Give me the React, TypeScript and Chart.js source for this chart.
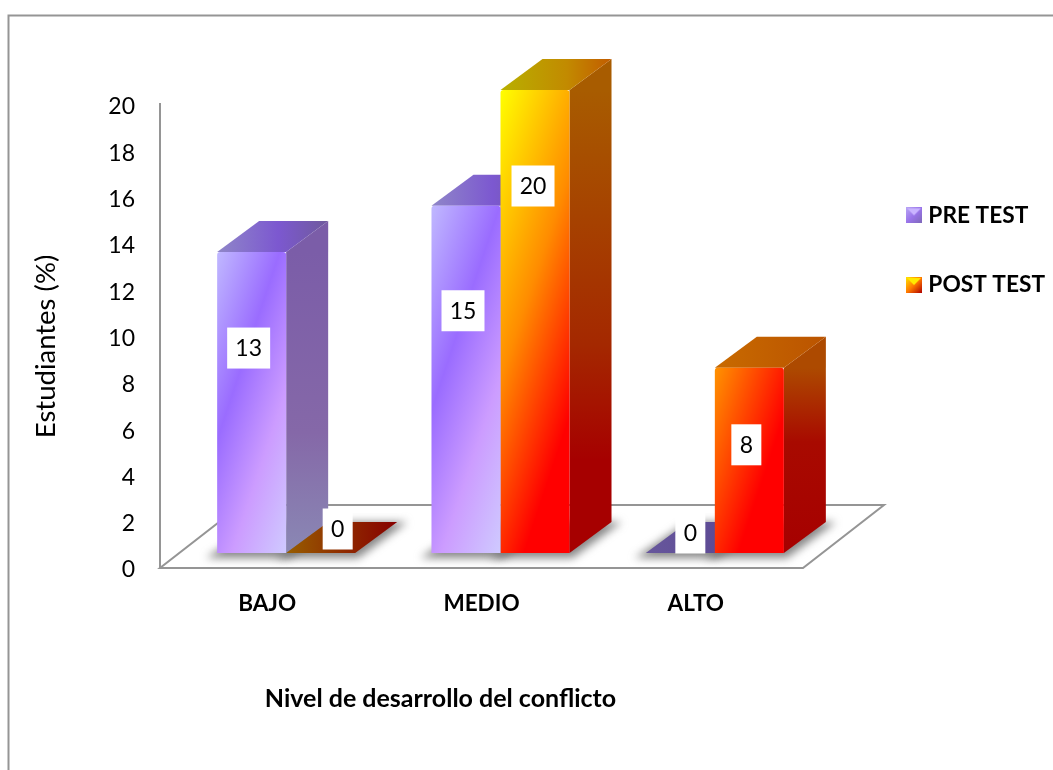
import React, { useEffect, useRef } from "react";
import { Chart, registerables } from "chart.js";

Chart.register(...registerables);

const categories = ["BAJO", "MEDIO", "ALTO"];
const preTest = [13, 15, 0];
const postTest = [0, 20, 8];
const yTicks = [0, 2, 4, 6, 8, 10, 12, 14, 16, 18, 20];
const seriesNames = ["PRE TEST", "POST TEST"];

const FONT = "Lato, 'Open Sans', sans-serif";
const SHIFT_X = 19;
const SHIFT_Y = -15;
const DEPTH_X = 42;
const DEPTH_Y = -31;
const LINE = "#959595";

// label placement relative to each bar's front face [dx, dy from bar top]
const labelNudge: Record<string, [number, number]> = {
  "0-0": [-3, 96],
  "0-1": [-3, 105],
  "0-2": [10, -20],
  "1-0": [17, -24],
  "1-1": [-2, 96],
  "1-2": [-3, 77],
};

function purpleFront(ctx: CanvasRenderingContext2D, x: number, top: number, w: number, h: number) {
  const span = 3 * w + h;
  const g = ctx.createLinearGradient(x, top, x + (span * 3) / 10, top + span / 10);
  g.addColorStop(0, "#c0b8ff");
  g.addColorStop(0.37, "#9a6cff");
  g.addColorStop(0.68, "#cc9cff");
  g.addColorStop(1, "#cfcaff");
  return g;
}

function orangeFront(ctx: CanvasRenderingContext2D, x: number, top20: number) {
  const g = ctx.createLinearGradient(x, top20, x + 174, top20 + 58);
  g.addColorStop(0, "#ffff00");
  g.addColorStop(0.5, "#ff8c00");
  g.addColorStop(0.92, "#ff0000");
  g.addColorStop(1, "#ff0000");
  return g;
}

function makeLegendIcon(kind: number) {
  const c = document.createElement("canvas");
  c.width = 16;
  c.height = 16;
  const q = c.getContext("2d")!;
  const g = q.createLinearGradient(0, 0, 16, 16);
  if (kind === 0) {
    g.addColorStop(0, "#b9a6f5");
    g.addColorStop(0.5, "#9a74ea");
    g.addColorStop(1, "#7e68b8");
  } else {
    g.addColorStop(0, "#ffe600");
    g.addColorStop(0.5, "#ff7a00");
    g.addColorStop(1, "#b00000");
  }
  q.fillStyle = g;
  q.fillRect(0, 0, 16, 16);
  q.fillStyle = kind === 0 ? "#c9b4ff" : "#ffea00";
  q.beginPath();
  q.moveTo(1, 1);
  q.lineTo(15, 1);
  q.lineTo(8, 8);
  q.closePath();
  q.fill();
  return c;
}

function poly(ctx: CanvasRenderingContext2D, pts: number[][]) {
  ctx.beginPath();
  pts.forEach((p, i) => (i ? ctx.lineTo(p[0], p[1]) : ctx.moveTo(p[0], p[1])));
  ctx.closePath();
}

function drawFaces(chart: any, d: number) {
  const { ctx } = chart;
  const values = d === 0 ? preTest : postTest;
  chart.getDatasetMeta(d).data.forEach((el: any, i: number) => {
    const v = values[i];
    const l = el.x - el.width / 2;
    const r = el.x + el.width / 2;
    const t = el.y;
    const b = el.base;
    if (v > 0) {
      const side = ctx.createLinearGradient(0, t, 0, b);
      if (d === 0) {
        side.addColorStop(0, "#7b5da8");
        side.addColorStop(0.6, "#8568a8");
        side.addColorStop(1, "#8a88b4");
      } else if (v === 20) {
        side.addColorStop(0, "#a85c00");
        side.addColorStop(0.55, "#a42800");
        side.addColorStop(0.8, "#a60000");
        side.addColorStop(1, "#a60000");
      } else {
        side.addColorStop(0, "#ad4a00");
        side.addColorStop(0.4, "#a80a00");
        side.addColorStop(1, "#a60000");
      }
      ctx.fillStyle = side;
      poly(ctx, [
        [r, t],
        [r + DEPTH_X, t + DEPTH_Y],
        [r + DEPTH_X, b + DEPTH_Y],
        [r, b],
      ]);
      ctx.fill();
    }
    const top = ctx.createLinearGradient(l, t, r + DEPTH_X, t);
    if (d === 0 && v > 0) {
      top.addColorStop(0, "#8f86c8");
      top.addColorStop(0.55, "#7c58d0");
      top.addColorStop(1, "#6f5a9c");
    } else if (d === 0) {
      top.addColorStop(0, "#67579c");
      top.addColorStop(1, "#584490");
    } else if (v === 20) {
      top.addColorStop(0, "#b8b000");
      top.addColorStop(0.6, "#c28a00");
      top.addColorStop(1, "#c25c00");
    } else if (v > 0) {
      top.addColorStop(0, "#c86a00");
      top.addColorStop(1, "#bb5400");
    } else {
      top.addColorStop(0, "#975e00");
      top.addColorStop(0.55, "#8f2800");
      top.addColorStop(1, "#860000");
    }
    ctx.fillStyle = top;
    poly(ctx, [
      [l, t],
      [r, t],
      [r + DEPTH_X, t + DEPTH_Y],
      [l + DEPTH_X, t + DEPTH_Y],
    ]);
    ctx.fill();
  });
}

const scene = {
  id: "scene",
  afterLayout(chart: any) {
    const patch = (s: any, name: string, dx: number, dy: number) => {
      const key = "__p" + name;
      if (s[key]) return;
      s[key] = true;
      const orig = s[name].bind(s);
      s[name] = (...args: any[]) => {
        chart.ctx.save();
        chart.ctx.translate(dx, dy);
        orig(...args);
        chart.ctx.restore();
      };
    };
    patch(chart.scales.x, "drawTitle", -41, 0);
    patch(chart.scales.y, "drawTitle", 0, 10);
    patch(chart.scales.y, "drawLabels", 0, 2);
  },
  beforeDraw(chart: any) {
    const { ctx, width, height, legend } = chart;
    ctx.save();
    ctx.fillStyle = "#ffffff";
    ctx.fillRect(0, 0, width, height);
    ctx.strokeStyle = LINE;
    ctx.lineWidth = 2;
    ctx.beginPath();
    ctx.moveTo(8.5, height);
    ctx.lineTo(8.5, 15.5);
    ctx.lineTo(width, 15.5);
    ctx.stroke();
    ctx.restore();
    if (legend) {
      const p = legend.options.labels.padding;
      legend.left = 911 - p;
      legend.top = 204 - p;
      legend.right = 1053;
      legend.bottom = 460;
      legend.width = legend.right - legend.left;
      legend.height = legend.bottom - legend.top;
    }
  },
  beforeDatasetsDraw(chart: any) {
    const { ctx, chartArea: a } = chart;
    const fx = 81;
    const fy = -63;
    ctx.save();
    ctx.strokeStyle = LINE;
    ctx.lineWidth = 2;
    ctx.fillStyle = "#ffffff";
    poly(ctx, [
      [a.left, a.bottom],
      [a.right, a.bottom],
      [a.right + fx, a.bottom + fy],
      [a.left + fx, a.bottom + fy],
    ]);
    ctx.fill();
    ctx.stroke();
    ctx.beginPath();
    ctx.moveTo(a.left, a.bottom);
    ctx.lineTo(a.left, a.top - 2);
    ctx.stroke();
    ctx.filter = "blur(4px)";
    ctx.fillStyle = "rgba(105,105,105,0.8)";
    [0, 1].forEach((d) => {
      chart.getDatasetMeta(d).data.forEach((el: any) => {
        const l = el.x - el.width / 2 + SHIFT_X;
        const r = el.x + el.width / 2 + SHIFT_X;
        const b = el.base + SHIFT_Y;
        poly(ctx, [
          [l - 11, b + 5],
          [r + 3, b + 5],
          [r + DEPTH_X + 10, b + DEPTH_Y],
          [l + DEPTH_X, b + DEPTH_Y],
        ]);
        ctx.fill();
      });
    });
    ctx.restore();
    // side and top faces go under every front face, left series first
    ctx.save();
    ctx.translate(SHIFT_X, SHIFT_Y);
    drawFaces(chart, 0);
    drawFaces(chart, 1);
    ctx.restore();
  },
  beforeDatasetDraw(chart: any) {
    chart.ctx.save();
    chart.ctx.translate(SHIFT_X, SHIFT_Y);
  },
  afterDatasetDraw(chart: any) {
    chart.ctx.restore();
  },
  afterDatasetsDraw(chart: any) {
    const { ctx } = chart;
    ctx.save();
    ctx.font = `23px ${FONT}`;
    ctx.textAlign = "center";
    ctx.textBaseline = "middle";
    [preTest, postTest].forEach((vals, d) => {
      chart.getDatasetMeta(d).data.forEach((el: any, i: number) => {
        const [dx, dy] = labelNudge[`${d}-${i}`];
        const cx = el.x + SHIFT_X + dx;
        const cy = el.y + SHIFT_Y + dy;
        const txt = String(vals[i]);
        const w = txt.length > 1 ? 43 : 30;
        ctx.fillStyle = "#ffffff";
        ctx.fillRect(cx - w / 2, cy - 20.5, w, 41);
        ctx.fillStyle = "#000000";
        ctx.fillText(txt, cx, cy + 1);
      });
    });
    ctx.restore();
  },
};

export default function App() {
  const ref = useRef<HTMLCanvasElement>(null);
  useEffect(() => {
    const icons = [makeLegendIcon(0), makeLegendIcon(1)];
    const chart = new Chart(ref.current!, {
      type: "bar",
      plugins: [scene],
      data: {
        labels: categories,
        datasets: [
          {
            label: seriesNames[0],
            data: preTest,
            clip: false,
            borderRadius: { topLeft: 3, topRight: 3, bottomLeft: 0, bottomRight: 0 },
            borderSkipped: false,
            backgroundColor: (c: any) => {
              const s = c.chart.scales;
              if (!s.y || !c.chart.chartArea || c.raw === undefined) return "#9a6cff";
              const w = 69;
              const x = s.x.getPixelForValue(c.dataIndex) - w;
              const top = s.y.getPixelForValue(c.raw);
              const base = s.y.getPixelForValue(0);
              return purpleFront(c.chart.ctx, x, top, w, base - top);
            },
          },
          {
            label: seriesNames[1],
            data: postTest,
            clip: false,
            borderRadius: { topLeft: 3, topRight: 3, bottomLeft: 0, bottomRight: 0 },
            borderSkipped: false,
            backgroundColor: (c: any) => {
              const s = c.chart.scales;
              if (!s.y || !c.chart.chartArea) return "#ff9400";
              const x = s.x.getPixelForValue(c.dataIndex);
              return orangeFront(c.chart.ctx, x, s.y.getPixelForValue(20));
            },
          },
        ] as any,
      },
      options: {
        animation: false,
        responsive: false,
        devicePixelRatio: 1,
        layout: { padding: { left: 20, right: 250, top: 105, bottom: 0 } },
        categoryPercentage: 0.644,
        barPercentage: 1,
        plugins: {
          tooltip: { enabled: false },
          legend: {
            position: "chartArea",
            align: "start",
            labels: {
              font: { family: FONT, size: 22.7, weight: "bold" },
              color: "#000000",
              usePointStyle: true,
              pointStyleWidth: 6,
              padding: 47,
              generateLabels: () =>
                seriesNames.map((text, i) => ({
                  text,
                  datasetIndex: i,
                  pointStyle: icons[i],
                  fontColor: "#000000",
                  hidden: false,
                  lineWidth: 0,
                })),
            },
          },
        },
        scales: {
          x: {
            grid: { display: false, drawTicks: false },
            border: { display: false },
            ticks: { padding: 22, color: "#000000", font: { family: FONT, size: 22.5, weight: "bold" } },
            afterFit: (s: any) => {
              s.height = 202;
            },
            title: {
              display: true,
              text: "Nivel de desarrollo del conflicto",
              color: "#000000",
              font: { family: FONT, size: 25, weight: "bold" },
              padding: { top: 0, bottom: 56 },
            },
          },
          y: {
            min: 0,
            max: 20,
            afterBuildTicks: (s: any) => {
              s.ticks = yTicks.map((value) => ({ value }));
            },
            grid: { display: false, drawTicks: false },
            border: { display: false },
            ticks: { padding: 25, color: "#000000", font: { family: FONT, size: 23 } },
            afterFit: (s: any) => {
              s.width = 140;
            },
            title: {
              display: true,
              text: "Estudiantes (%)",
              color: "#000000",
              font: { family: FONT, size: 27.5 },
              padding: { top: 10, bottom: 0 },
            },
          },
        },
      } as any,
    });
    return () => chart.destroy();
  }, []);
  return (
    <div style={{ position: "absolute", left: 0, top: 0, width: 1053, height: 770, background: "#fff" }}>
      <canvas ref={ref} width={1053} height={770} style={{ display: "block" }} />
    </div>
  );
}
